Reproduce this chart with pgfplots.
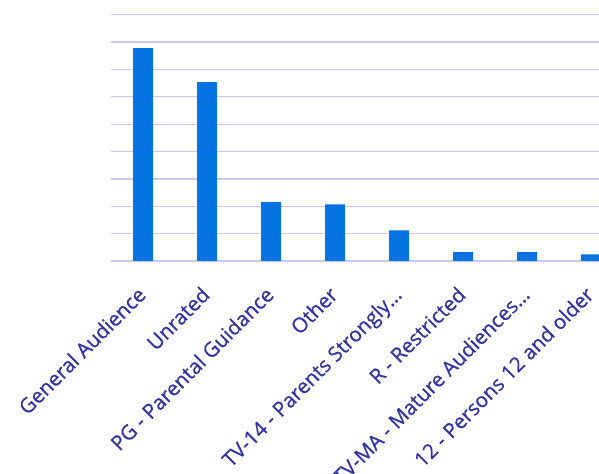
\documentclass[border=0pt]{standalone}
\usepackage{pgfplots}
\pgfplotsset{compat=1.18}
\usepackage{fontspec}
\setmainfont{Open Sans}
\newfontfamily\labfont{Open Sans}[FakeBold=0.6]
\definecolor{barblue}{RGB}{5,115,225}
\definecolor{gridc}{RGB}{200,200,236}
\definecolor{labc}{RGB}{50,50,160}
\begin{document}
\begin{tikzpicture}
\useasboundingbox (0,0) rectangle (599bp,474bp);
\begin{axis}[
  at={(111bp,213bp)}, anchor=south west,
  scale only axis, width=488bp, height=246.3bp,
  xmin=-0.5, xmax=7.125, ymin=0, ymax=9,
  ytick={0,1,2,3,4,5,6,7,8,9}, yticklabels={},
  ymajorgrids, grid style={gridc, line width=1.3bp},
  axis line style={draw=none}, major tick length=0,
  xtick={0,1,2,3,4,5,6,7},
  xticklabels={General Audience, Unrated, PG - Parental Guidance, Other, TV-14 - Parents Strongly…, R - Restricted, TV-MA - Mature Audiences…, 12 - Persons 12 and older},
  xticklabel style={xshift=-7bp, yshift=-24bp, rotate=45, anchor=north east, font=\fontsize{20.5bp}{24bp}\labfont, text=labc, inner sep=0pt},
  ybar, bar width=20bp,
]
\addplot[fill=barblue, draw=none] coordinates {(0,7.78) (1,6.54) (2,2.15) (3,2.07) (4,1.12) (5,0.32) (6,0.32) (7,0.24)};
\end{axis}
\end{tikzpicture}
\end{document}
